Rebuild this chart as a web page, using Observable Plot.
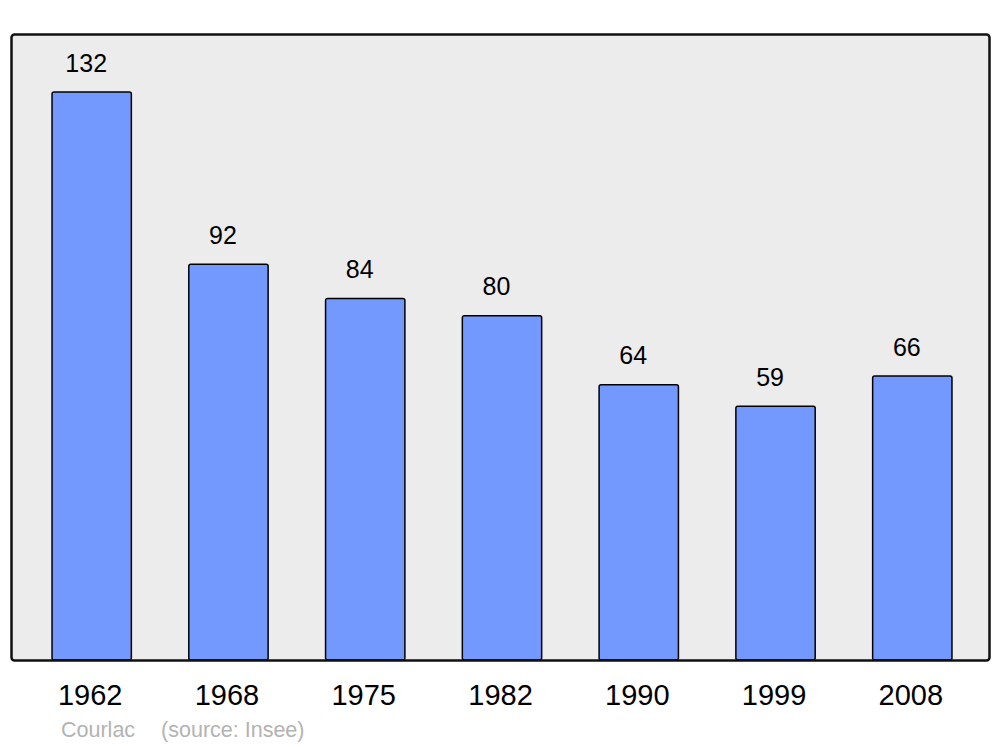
<!DOCTYPE html>
<html>
<head>
<meta charset="utf-8">
<script src="https://cdn.jsdelivr.net/npm/d3@7"></script>
<script src="https://cdn.jsdelivr.net/npm/@observablehq/plot@0.6"></script>
<style>
  html, body { margin: 0; padding: 0; background: #ffffff; }
  #wrap { position: relative; width: 1000px; height: 747px; font-family: "Liberation Sans", Arial, sans-serif; }
  #caption { position: absolute; left: 61px; top: 718px; font-size: 21.5px; color: #b3b3b3; white-space: nowrap; }
  #caption span + span { margin-left: 26px; }
</style>
</head>
<body>
<div id="wrap">
  <div id="chart"></div>
  <div id="caption"><span>Courlac</span><span>(source: Insee)</span></div>
</div>
<script>
const years = ["1962", "1968", "1975", "1982", "1990", "1999", "2008"];
const population = [132, 92, 84, 80, 64, 59, 66];

const data = years.map((y, i) => ({year: y, value: population[i]}));

const chart = Plot.plot({
  width: 1000,
  height: 747,
  marginTop: 34,
  marginBottom: 87,
  marginLeft: 11,
  marginRight: 11,
  style: {fontFamily: "Liberation Sans, Arial, sans-serif", background: "#ffffff"},
  x: {domain: years, range: [11, 993], paddingInner: 0.42, paddingOuter: 0.3, round: false},
  y: {domain: [0, 145.5], axis: null},
  marks: [
    Plot.frame({fill: "#ececec", stroke: "none", rx: 3}),
    Plot.barY(data, {x: "year", y: "value", fill: "#7399ff", stroke: "#000000", strokeWidth: 1.5, rx: 2}),
    Plot.text(data, {x: "year", y: "value", text: d => String(d.value), dx: -6, dy: -21, lineAnchor: "bottom", fontSize: 25, fill: "#000000"}),
    Plot.axisX({tickSize: 0, tickPadding: 24, dx: -2, fontSize: 29, color: "#000000", label: null}),
    Plot.frame({stroke: "#111111", strokeWidth: 2.5, rx: 3})
  ]
});
document.getElementById("chart").appendChild(chart);
</script>
</body>
</html>
